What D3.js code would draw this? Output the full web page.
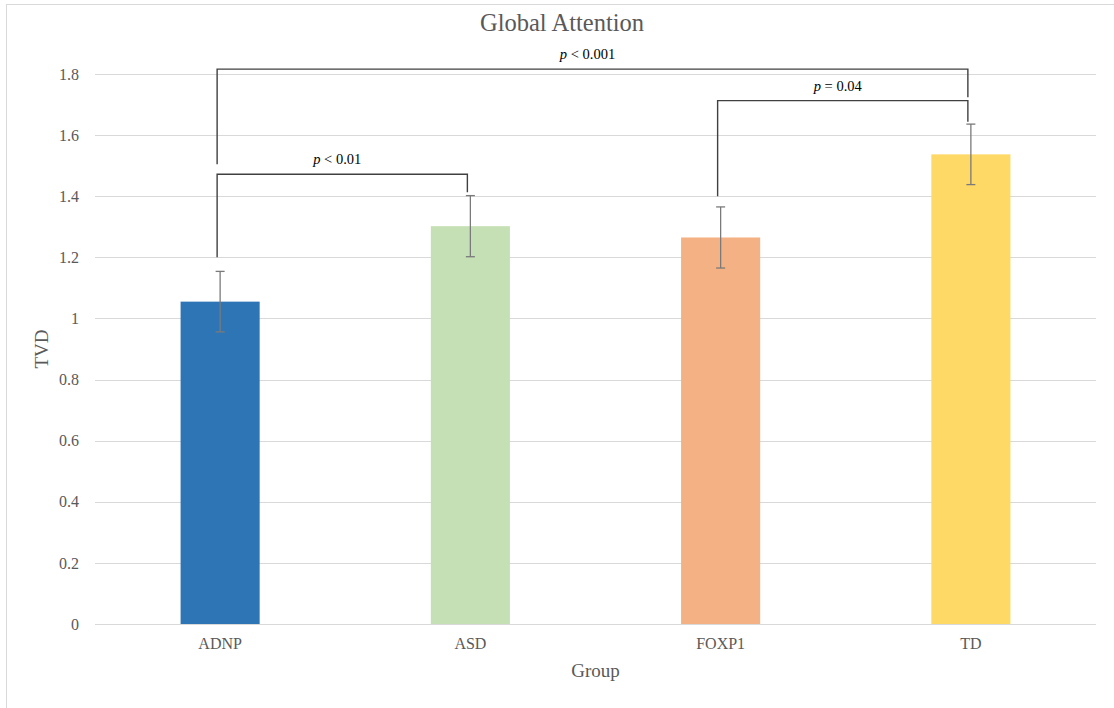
<!DOCTYPE html>
<html>
<head>
<meta charset="utf-8">
<script src="https://cdn.jsdelivr.net/npm/d3@7/dist/d3.min.js"></script>
<style>
  html, body { margin: 0; padding: 0; background: #fff; }
  svg { display: block; }
  text { font-family: "Liberation Serif", "Times New Roman", serif; }
</style>
</head>
<body>
<svg id="chart" width="1114" height="708"></svg>
<script>
// Mean TVD per group with error bar half-widths
const groups = ["ADNP", "ASD", "FOXP1", "TD"];
const means = [1.055, 1.302, 1.265, 1.537];
const errors = [0.099, 0.100, 0.100, 0.099];
const colors = ["#2E75B6", "#C5E0B4", "#F4B183", "#FFD966"];
const yTicks = [0, 0.2, 0.4, 0.6, 0.8, 1, 1.2, 1.4, 1.6, 1.8];

// Significance brackets: groups compared, bracket height, leg ends, label
const comparisons = [
  { from: "ADNP", to: "ASD", level: 1.472, leftEnd: 1.200, rightEnd: 1.413, op: "<", value: "0.01" },
  { from: "FOXP1", to: "TD", level: 1.713, leftEnd: 1.400, rightEnd: 1.644, op: "=", value: "0.04" },
  { from: "ADNP", to: "TD", level: 1.816, leftEnd: 1.505, rightEnd: 1.724, op: "<", value: "0.001" }
];

const svg = d3.select("#chart");
const W = 1114, H = 708;
const margin = { left: 95, right: 18, top: 74, bottom: 84 };

// Chart-area border
svg.append("rect")
  .attr("x", 6.5).attr("y", 4.5)
  .attr("width", W + 10).attr("height", H + 10)
  .attr("fill", "#fff").attr("stroke", "#d9d9d9").attr("stroke-width", 1);

const x = d3.scaleBand().domain(groups).range([margin.left, W - margin.right]).paddingInner(0.684).paddingOuter(0.342);
const y = d3.scaleLinear().domain([0, 1.8]).range([H - margin.bottom, margin.top]);

// Gridlines
svg.append("g")
  .selectAll("line").data(yTicks).join("line")
  .attr("x1", margin.left).attr("x2", W - margin.right)
  .attr("y1", d => Math.round(y(d)) + 0.5).attr("y2", d => Math.round(y(d)) + 0.5)
  .attr("stroke", "#d9d9d9").attr("stroke-width", 1);

// Y axis labels
const yAxis = d3.axisLeft(y).tickValues(yTicks).tickSize(0).tickPadding(16)
  .tickFormat(d => d3.format("~g")(d));
const yg = svg.append("g").attr("transform", `translate(${margin.left},0)`).call(yAxis);
yg.select(".domain").remove();
yg.selectAll("text").attr("fill", "#595959").style("font-size", "16px")
  .style("font-family", "'Liberation Serif', serif");

// Bars
svg.append("g").selectAll("rect").data(groups).join("rect")
  .attr("x", d => x(d))
  .attr("width", x.bandwidth())
  .attr("y", (d, i) => y(means[i]))
  .attr("height", (d, i) => y(0) - y(means[i]))
  .attr("fill", (d, i) => colors[i]);

// Error bars
const eg = svg.append("g").attr("stroke", "#7a7a7a").attr("stroke-width", 1.3);
groups.forEach((g, i) => {
  const cx = x(g) + x.bandwidth() / 2;
  const top = y(means[i] + errors[i]), bot = y(means[i] - errors[i]);
  eg.append("line").attr("x1", cx).attr("x2", cx).attr("y1", top).attr("y2", bot);
  eg.append("line").attr("x1", cx - 4.5).attr("x2", cx + 4.5).attr("y1", top).attr("y2", top);
  eg.append("line").attr("x1", cx - 4.5).attr("x2", cx + 4.5).attr("y1", bot).attr("y2", bot);
});

// X axis labels
const xAxis = d3.axisBottom(x).tickSize(0).tickPadding(14);
const xg = svg.append("g").attr("transform", `translate(0,${y(0)})`).call(xAxis);
xg.select(".domain").remove();
xg.selectAll("text").attr("fill", "#595959").style("font-size", "16px")
  .style("font-family", "'Liberation Serif', serif");

// Significance brackets
const bg = svg.append("g");
comparisons.forEach(c => {
  const x1 = x(c.from) + x.bandwidth() / 2 - 3;
  const x2 = x(c.to) + x.bandwidth() / 2 - 3;
  const yl = y(c.level);
  bg.append("path")
    .attr("d", `M${x1},${y(c.leftEnd)}V${yl}H${x2}V${y(c.rightEnd)}`)
    .attr("fill", "none").attr("stroke", "#404040").attr("stroke-width", 1.4);
  const t = bg.append("text")
    .attr("x", (x1 + x2) / 2 - 5).attr("y", yl - 10)
    .attr("text-anchor", "middle").attr("fill", "#000")
    .style("font-size", "14.5px");
  t.append("tspan").attr("font-style", "italic").text("p");
  t.append("tspan").text(` ${c.op} ${c.value}`);
});

// Title and axis titles
svg.append("text").attr("x", 562).attr("y", 31).attr("text-anchor", "middle")
  .attr("fill", "#595959").style("font-size", "24.5px").text("Global Attention");
svg.append("text").attr("x", (margin.left + W - margin.right) / 2).attr("y", 677)
  .attr("text-anchor", "middle").attr("fill", "#595959").style("font-size", "19px").text("Group");
svg.append("text")
  .attr("transform", `translate(48,${(y(0) + y(1.8)) / 2}) rotate(-90)`)
  .attr("text-anchor", "middle").attr("fill", "#595959").style("font-size", "19px").text("TVD");
</script>
</body>
</html>
